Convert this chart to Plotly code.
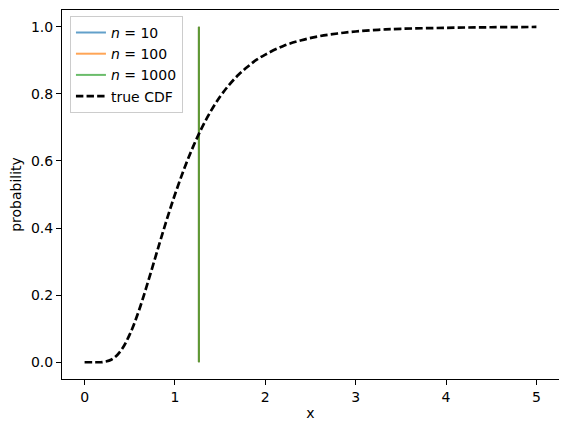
import plotly.graph_objects as go

# true CDF
cdf_x = [0.0, 0.1, 0.2, 0.3, 0.4, 0.5, 0.6, 0.7, 0.8, 0.9, 1.0, 1.1, 1.2, 1.3,
         1.4, 1.5, 1.6, 1.7, 1.8, 1.9, 2.0, 2.2, 2.4, 2.6, 2.8, 3.0, 3.25, 3.5,
         4.0, 4.5, 5.0]
cdf_y = [0.0, 0.0, 0.0006, 0.008, 0.034, 0.083, 0.153, 0.238, 0.328, 0.417,
         0.50, 0.575, 0.642, 0.700, 0.750, 0.792, 0.827, 0.856, 0.880, 0.901,
         0.917, 0.943, 0.960, 0.972, 0.980, 0.986, 0.991, 0.994, 0.9969,
         0.9986, 0.9994]

# empirical CDFs (all collapse onto one vertical jump)
sample_sizes = [10, 100, 1000]
ecdf_x = [[1.265, 1.265], [1.265, 1.265], [1.265, 1.265]]
ecdf_y = [[0.0, 1.0], [0.0, 1.0], [0.0, 1.0]]
colors = ['rgba(31,119,180,0.7)', 'rgba(255,127,14,0.7)', 'rgba(44,160,44,0.7)']

fig = go.Figure()

for n, xs, ys, c in zip(sample_sizes, ecdf_x, ecdf_y, colors):
    fig.add_trace(go.Scatter(
        x=xs, y=ys, mode='lines',
        line=dict(color=c, width=2),
        name='<i>n</i> = %d' % n
    ))

fig.add_trace(go.Scatter(
    x=cdf_x, y=cdf_y, mode='lines',
    line=dict(color='black', width=2.7, dash='7.4px,3.2px', shape='spline'),
    name='true CDF'
))

axis_style = dict(
    showgrid=False, zeroline=False, automargin=False,
    showline=True, linecolor='black', linewidth=1.1, mirror=True,
    ticks='outside', ticklen=5, tickwidth=1.1, tickcolor='black',
    tickfont=dict(size=14, color='black'),
)

# the page body adds an 8px offset, so the figure is 8px smaller
fig.update_layout(
    width=559, height=424,
    margin=dict(l=54, r=8, t=2, b=53),
    plot_bgcolor='white', paper_bgcolor='white',
    font=dict(family='DejaVu Sans', size=14, color='black'),
    showlegend=True,
    legend=dict(
        x=0.016, y=0.984, xanchor='left', yanchor='top',
        bgcolor='rgba(255,255,255,0.8)', bordercolor='#cccccc', borderwidth=1,
        font=dict(size=14), tracegroupgap=0,
    ),
    xaxis=dict(axis_style, range=[-0.25, 5.25], tickvals=[0, 1, 2, 3, 4, 5],
               title=dict(text='x', font=dict(size=14), standoff=4)),
    yaxis=dict(axis_style, range=[-0.05, 1.05],
               tickvals=[0, 0.2, 0.4, 0.6, 0.8, 1.0],
               ticktext=['0.0', '0.2', '0.4', '0.6', '0.8', '1.0'],
               title=dict(text='probability', font=dict(size=14), standoff=6)),
)

fig.write_html("out.html")
